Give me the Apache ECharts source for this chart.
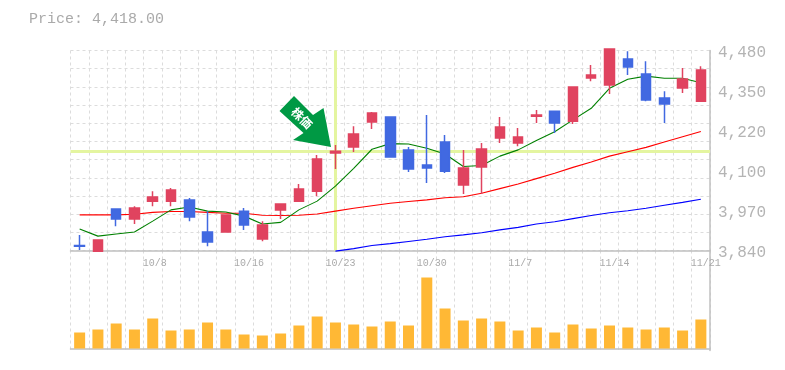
<!DOCTYPE html>
<html><head><meta charset="utf-8">
<style>html,body{margin:0;padding:0;background:#fff}#c{width:785px;height:370px}</style>
<script src="https://cdn.jsdelivr.net/npm/echarts@6/dist/echarts.min.js"></script>
</head><body><div id="c"></div>
<script>
const titleText = 'Price: 4,418.00';
const categories = ['10/2','10/3','10/4','10/7','10/8','10/9','10/10','10/11','10/15','10/16','10/17','10/18','10/21','10/22','10/23','10/24','10/25','10/28','10/29','10/30','10/31','11/1','11/5','11/6','11/7','11/8','11/11','11/12','11/13','11/14','11/15','11/18','11/19','11/20','11/21'];
const labelIndex = [4,9,14,19,24,29,34];
const opens  = [3856,3838,3973,3941,3998,3998,4002,3899,3899,3966,3877,3970,3998,4030,4152,4171,4251,4267,4162,4114,4187,4050,4107,4200,4184,4270,4286,4254,4392,4370,4453,4405,4328,4360,4318];
const closes = [3854,3874,3941,3976,4011,4034,3947,3867,3954,3922,3922,3989,4037,4133,4158,4213,4280,4139,4101,4104,4094,4104,4165,4235,4203,4274,4248,4363,4402,4485,4427,4322,4309,4389,4418];
const lows   = [3842,3838,3918,3925,3982,3982,3934,3854,3899,3906,3870,3941,3995,4014,4101,4155,4229,4139,4091,4056,4088,4021,4021,4184,4174,4248,4216,4245,4382,4341,4402,4318,4248,4344,4318];
const highs  = [3890,3874,3973,3982,4030,4040,4008,3966,3954,3976,3934,3989,4053,4146,4178,4238,4283,4267,4171,4274,4210,4162,4184,4267,4232,4290,4286,4363,4434,4485,4478,4446,4350,4424,4430];
const ma5 = [3909,3886,3893,3899,3934,3970,3979,3966,3963,3950,3925,3930,3970,3998,4046,4103,4164,4182,4181,4167,4149,4109,4112,4142,4162,4192,4220,4258,4295,4359,4388,4398,4391,4391,4377];
const ma25 = [3954,3954,3954,3956,3962,3965,3965,3962,3959,3959,3953,3952,3953,3957,3966,3975,3983,3991,3997,4002,4009,4012,4023,4038,4053,4070,4087,4106,4123,4142,4156,4170,4187,4204,4221];
const ma75 = [null,null,null,null,null,null,null,null,null,null,null,null,null,null,3838,3846,3856,3862,3869,3876,3884,3890,3897,3906,3914,3925,3932,3942,3952,3961,3967,3975,3985,3994,4004];
const volumes = [16,19,25,19,30,18,19,26,19,14,13,15,23,32,26,24,22,27,23,71,40,28,30,27,18,21,16,24,20,23,21,19,21,18,29];
const priceTicks = {min:3840,max:4480,step:128};
const markPrice = 4157;
const markIndex = 14;

const AX='#c0c0c0', GR='#dcdcdc', TX='#b4b4b4', MONO='"Liberation Mono","DejaVu Sans Mono",monospace';
const RED='#E0435F', BLUE='#4169E1';
const lineS=(name,data,color)=>({name,type:'line',data,xAxisIndex:0,yAxisIndex:0,symbol:'none',smooth:false,connectNulls:false,z:2,silent:true,animation:false,clip:false,lineStyle:{color,width:1.1}});
const chart=echarts.init(document.getElementById('c'),null,{renderer:'canvas'});
const splitX={show:true,interval:0,lineStyle:{color:GR,type:[3,3],width:1}};
chart.setOption({
 animation:false,backgroundColor:'#fff',
 title:{text:titleText,left:24,top:7,textStyle:{fontFamily:MONO,fontSize:15,fontWeight:'normal',color:'#aaaaaa'}},
 grid:[{left:70.5,top:50.5,width:639.5,height:200},{left:70.5,top:250.5,width:639.5,height:100},{left:60.5,top:250.5,width:639.5,height:100}],
 xAxis:[
  {type:'category',gridIndex:0,data:categories,boundaryGap:true,axisTick:{show:false},axisLabel:{show:false},axisLine:{show:true,lineStyle:{color:AX,width:1.5}},splitLine:splitX},
  {type:'category',gridIndex:1,data:categories,boundaryGap:true,axisTick:{show:false},axisLabel:{show:false},axisLine:{show:true,lineStyle:{color:AX,width:1.5}},splitLine:splitX},
  {type:'category',gridIndex:2,data:categories,position:'top',boundaryGap:true,axisTick:{show:false},axisLine:{show:false},splitLine:{show:false},
   axisLabel:{show:true,inside:true,margin:8,align:'left',verticalAlign:'top',interval:(i)=>labelIndex.includes(i),hideOverlap:false,fontFamily:MONO,fontSize:10,color:'#aaaaaa'}}
 ],
 yAxis:[
  {type:'value',gridIndex:0,position:'right',min:priceTicks.min,max:priceTicks.max,interval:priceTicks.step,
   axisLine:{show:true,lineStyle:{color:AX,width:1.5}},axisTick:{show:false},splitLine:{show:false},
   axisLabel:{margin:8,fontFamily:MONO,fontSize:16,color:TX,verticalAlign:'top',lineHeight:4,formatter:v=>(Math.round(v/10)*10).toLocaleString('en-US')}},
  {type:'value',gridIndex:0,position:'left',min:0,max:11,interval:1,axisLine:{show:false},axisTick:{show:false},axisLabel:{show:false},splitLine:{show:true,lineStyle:{color:GR,type:[3,3],width:1}}},
  {type:'value',gridIndex:1,position:'right',min:-2,max:98,axisLine:{show:true,lineStyle:{color:AX,width:1.5}},axisTick:{show:false},axisLabel:{show:false},splitLine:{show:false}},
  {type:'value',gridIndex:2,show:false,min:0,max:1}
 ],
 graphic:[
  {type:'polygon',z:20,shape:{points:[[294,96],[313,115],[323.5,108],[331,147],[293,140],[303.5,133],[279.5,111]]},style:{fill:'#009944'}},
  {type:'text',z:21,x:302,y:118,rotation:-Math.PI/4,style:{text:'株価',x:0,y:0,align:'center',verticalAlign:'middle',fill:'#fff',font:'bold 12px "Noto Sans CJK JP"'}}
 ],
 series:[
  {type:'line',data:[],xAxisIndex:0,yAxisIndex:0,z:1,silent:true,markLine:{z:1,silent:true,symbol:'none',label:{show:false},animation:false,lineStyle:{color:'#E4F5A0',width:3,type:'solid'},
    data:[{yAxis:markPrice},{xAxis:markIndex}]}},
  lineS('ma25',ma25,'#ff0000'),
  lineS('ma75',ma75,'#0000ff'),
  lineS('ma5',ma5,'#008000'),
  {type:'candlestick',xAxisIndex:0,yAxisIndex:0,z:5,clip:false,barWidth:10,silent:true,
   data:opens.map((o,i)=>[o,closes[i],lows[i],highs[i]]),
   itemStyle:{color:RED,color0:BLUE,borderColor:RED,borderColor0:BLUE,borderWidth:1.5}},
  {type:'bar',xAxisIndex:1,yAxisIndex:2,barWidth:11,data:volumes,silent:true,itemStyle:{color:'#FFB835'},z:3},
 ]
});
</script></body></html>
